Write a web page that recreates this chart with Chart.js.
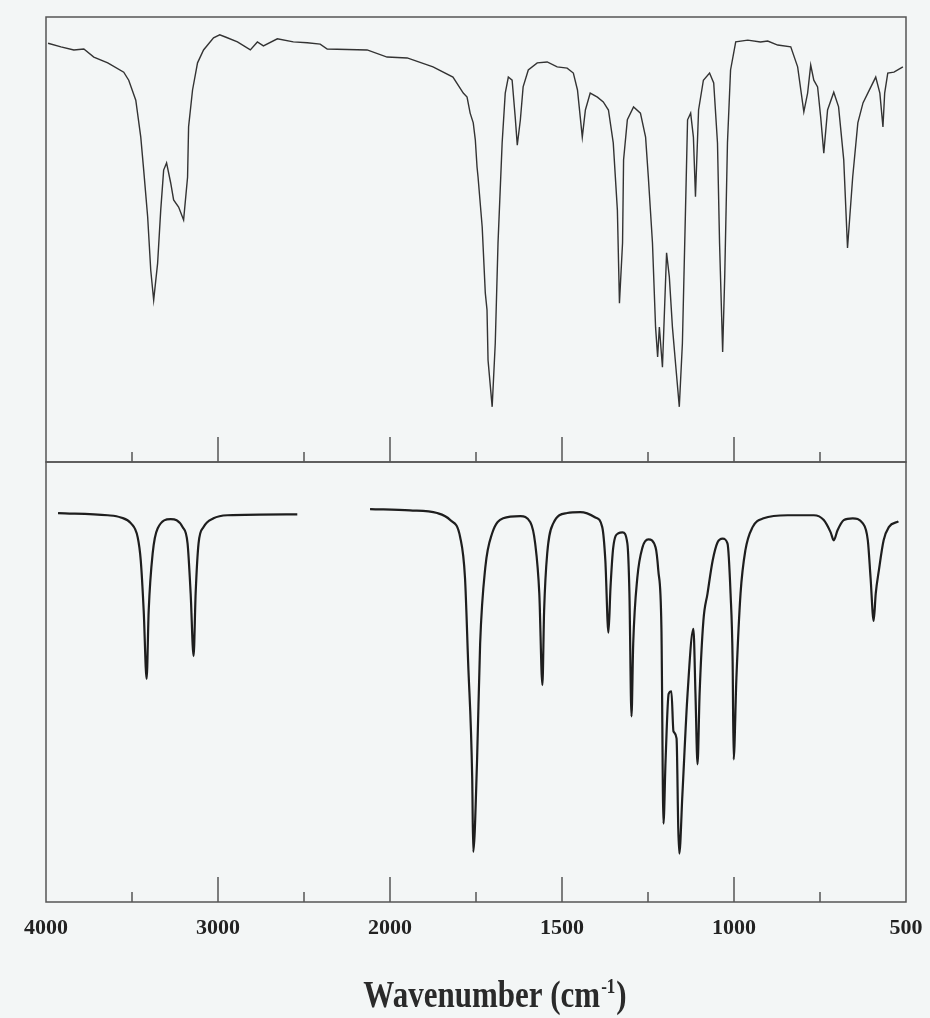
<!DOCTYPE html>
<html>
<head>
<meta charset="utf-8">
<script src="https://cdn.jsdelivr.net/npm/chart.js@4.4.1/dist/chart.umd.min.js"></script>
<style>
  html, body { margin: 0; padding: 0; background: #f3f6f6; }
  #wrap { position: relative; width: 930px; height: 1018px; overflow: hidden; }
  canvas { position: absolute; left: 0; }
  #top { top: 0; }
  #bottom { top: 450px; }
</style>
</head>
<body>
<div id="wrap">
  <canvas id="top" width="930" height="470"></canvas>
  <canvas id="bottom" width="930" height="568"></canvas>
</div>
<script>
// tick positions on the wavenumber axis (cm-1)
const tickLabels = [4000, 3000, 2000, 1500, 1000, 500];
const majorTicks = [3000, 2000, 1500, 1000];
const minorTicks = [3500, 2500, 1750, 1250, 750];

// measured spectrum (top panel): wavenumber, transmittance %
const measWavenumber = [3988, 3913, 3838, 3780, 3722, 3641, 3548, 3519, 3478, 3449, 3432, 3409, 3391, 3374, 3351, 3333, 3316, 3299, 3275, 3258, 3229, 3200, 3177, 3171, 3148, 3119, 3084, 3026, 2990, 2957, 2887, 2812, 2771, 2736, 2655, 2562, 2481, 2406, 2365, 2133, 2017, 1950, 1875, 1817, 1787, 1776, 1767, 1758, 1752, 1747, 1744, 1732, 1723, 1718, 1715, 1703, 1694, 1686, 1674, 1665, 1656, 1645, 1636, 1630, 1621, 1613, 1598, 1572, 1543, 1514, 1485, 1467, 1455, 1441, 1432, 1418, 1397, 1380, 1365, 1351, 1339, 1333, 1324, 1321, 1310, 1292, 1272, 1257, 1249, 1237, 1228, 1222, 1217, 1208, 1202, 1196, 1188, 1179, 1170, 1159, 1150, 1141, 1135, 1126, 1118, 1112, 1103, 1089, 1071, 1059, 1048, 1042, 1033, 1027, 1019, 1010, 995, 960, 923, 902, 873, 835, 815, 797, 786, 777, 768, 757, 748, 739, 728, 710, 696, 681, 670, 655, 640, 625, 611, 588, 576, 567, 562, 553, 535, 509];
const measTransmittance = [94.1, 93.3, 92.6, 92.8, 91.0, 89.7, 87.6, 85.8, 81.3, 73.0, 65.6, 55.1, 43.1, 36.4, 44.7, 56.6, 65.6, 67.2, 62.7, 58.9, 57.3, 54.4, 64.0, 75.3, 83.6, 89.7, 92.6, 95.3, 96.0, 95.5, 94.4, 92.6, 94.4, 93.5, 95.1, 94.4, 94.2, 93.9, 92.8, 92.6, 91.0, 90.8, 88.8, 86.5, 82.9, 82.0, 78.4, 76.2, 72.4, 66.3, 64.0, 52.8, 38.0, 34.2, 22.9, 12.4, 26.7, 49.2, 71.7, 82.9, 86.5, 85.8, 77.5, 71.2, 76.9, 84.3, 88.1, 89.7, 89.9, 88.8, 88.5, 87.4, 83.6, 73.0, 79.1, 82.9, 82.0, 80.9, 79.1, 71.7, 56.6, 35.7, 49.2, 67.9, 76.9, 79.8, 78.4, 73.0, 64.0, 49.2, 30.3, 23.6, 30.3, 21.3, 34.2, 47.0, 41.6, 30.3, 22.2, 12.4, 26.7, 56.6, 76.9, 78.4, 73.0, 59.6, 79.1, 85.8, 87.4, 85.2, 71.7, 49.2, 24.7, 41.6, 71.7, 88.1, 94.4, 94.8, 94.4, 94.6, 93.7, 93.3, 88.8, 78.7, 82.9, 89.2, 85.8, 84.3, 77.5, 69.4, 79.1, 83.1, 79.8, 67.9, 48.1, 64.0, 76.2, 80.7, 82.9, 86.5, 82.9, 75.3, 82.9, 87.4, 87.6, 88.8];

// calculated spectrum (bottom panel), null = gap
const calcWavenumber = [3930, 3641, 3565, 3507, 3467, 3449, 3432, 3415, 3403, 3380, 3351, 3275, 3206, 3177, 3159, 3142, 3130, 3113, 3084, 3026, 2945, 2539, 2330, 2116, 1942, 1863, 1825, 1796, 1782, 1773, 1761, 1758, 1747, 1738, 1723, 1703, 1671, 1621, 1592, 1578, 1566, 1557, 1552, 1543, 1525, 1485, 1447, 1403, 1383, 1374, 1365, 1359, 1351, 1336, 1324, 1310, 1304, 1298, 1293, 1281, 1266, 1249, 1228, 1220, 1211, 1205, 1199, 1190, 1182, 1176, 1167, 1162, 1159, 1150, 1135, 1118, 1112, 1106, 1100, 1089, 1077, 1062, 1048, 1033, 1019, 1010, 1004, 1001, 993, 981, 967, 946, 914, 844, 768, 739, 719, 710, 699, 681, 655, 626, 611, 603, 594, 588, 579, 565, 550, 522];
const calcTransmittance = [88.4, 87.9, 87.4, 86.1, 82.9, 77.6, 66.2, 50.7, 66.2, 79.2, 84.9, 87.0, 85.2, 81.5, 70.1, 55.9, 70.1, 81.5, 85.2, 87.2, 87.9, 88.1, null, 89.3, 89.0, 88.4, 86.8, 82.9, 73.7, 54.8, 28.1, 11.4, 32.0, 58.7, 76.0, 83.8, 87.2, 87.7, 86.3, 81.5, 70.1, 49.3, 66.2, 79.2, 86.1, 88.4, 88.6, 87.4, 85.2, 77.6, 61.2, 71.5, 80.6, 83.8, 84.0, 81.5, 70.1, 42.2, 58.7, 73.7, 80.6, 82.4, 80.6, 75.3, 62.3, 17.8, 32.0, 47.3, 47.9, 38.8, 37.2, 16.7, 11.0, 24.4, 47.3, 62.1, 47.3, 31.3, 47.3, 63.9, 70.1, 77.6, 81.7, 82.6, 81.5, 70.1, 54.8, 32.4, 50.9, 70.1, 79.9, 85.2, 87.2, 87.9, 87.9, 86.8, 84.0, 82.2, 84.5, 86.8, 87.2, 86.1, 82.2, 73.7, 63.9, 70.1, 75.3, 82.2, 85.2, 86.5];

// split axis: 4000-2000 at half the scale of 2000-500
class WavenumberScale extends Chart.LinearScale {
    static id = 'wavenumber';
    frac(v) {
        return v >= 2000 ? (4000 - v) / 5000 : (2 + (2000 - v) / 500) / 5;
    }
    getPixelForValue(v) {
        return this.left + this.width * this.frac(v);
    }
    getValueForPixel(p) {
        const f = (p - this.left) / this.width * 5;
        return f <= 2 ? 4000 - f * 1000 : 2000 - (f - 2) * 500;
    }
    buildTicks() {
        return tickLabels.map(v => ({ value: v }));
    }
}
Chart.register(WavenumberScale);

const frame = {
    id: 'frame',
    afterDatasetsDraw(chart) {
        const { ctx, chartArea: a, scales: { x } } = chart;
        ctx.save();
        ctx.strokeStyle = '#555';
        ctx.lineWidth = 1.5;
        ctx.strokeRect(a.left, a.top, a.right - a.left, a.bottom - a.top);
        ctx.beginPath();
        majorTicks.forEach(v => {
            const px = x.getPixelForValue(v);
            ctx.moveTo(px, a.bottom);
            ctx.lineTo(px, a.bottom - 25);
        });
        minorTicks.forEach(v => {
            const px = x.getPixelForValue(v);
            ctx.moveTo(px, a.bottom);
            ctx.lineTo(px, a.bottom - 10);
        });
        ctx.stroke();
        ctx.restore();
    }
};

const axisTitle = {
    id: 'axisTitle',
    afterDraw(chart) {
        const ctx = chart.ctx;
        const main = 'Wavenumber (cm', sup = '-1', close = ')';
        ctx.save();
        ctx.fillStyle = '#2a2a2a';
        ctx.font = 'bold 31px "Liberation Serif", "Times New Roman", serif';
        const w1 = ctx.measureText(main).width;
        const w3 = ctx.measureText(close).width;
        ctx.font = 'bold 17px "Liberation Serif", "Times New Roman", serif';
        const w2 = ctx.measureText(sup).width;
        const total = w1 + w2 + w3 + 2;
        ctx.translate(495 - total / 2, 557);
        ctx.scale(1, 1.2);
        ctx.textBaseline = 'alphabetic';
        ctx.font = 'bold 31px "Liberation Serif", "Times New Roman", serif';
        ctx.fillText(main, 0, 0);
        ctx.fillText(close, w1 + w2 + 2, 0);
        ctx.font = 'bold 17px "Liberation Serif", "Times New Roman", serif';
        ctx.fillText(sup, w1 + 1, -12);
        ctx.restore();
    }
};

function points(xs, ys) {
    return xs.map((v, i) => ({ x: v, y: ys[i] }));
}

new Chart(document.getElementById('top'), {
    type: 'line',
    data: {
        datasets: [{
            data: points(measWavenumber, measTransmittance),
            borderColor: '#333',
            borderWidth: 1.4,
            pointRadius: 0,
            tension: 0
        }]
    },
    options: {
        responsive: false,
        animation: false,
        layout: { padding: { left: 46, right: 24, top: 17, bottom: 8 } },
        plugins: { legend: { display: false }, tooltip: { enabled: false } },
        scales: {
            x: { type: 'wavenumber', min: 500, max: 4000, display: false },
            y: { min: 0, max: 100, display: false }
        }
    },
    plugins: [frame]
});

new Chart(document.getElementById('bottom'), {
    type: 'line',
    data: {
        datasets: [{
            data: points(calcWavenumber, calcTransmittance),
            borderColor: '#1e1e1e',
            borderWidth: 2.2,
            pointRadius: 0,
            cubicInterpolationMode: 'monotone',
            spanGaps: false
        }]
    },
    options: {
        responsive: false,
        animation: false,
        layout: { padding: { left: 46, right: 24, top: 12, bottom: 76 } },
        plugins: { legend: { display: false }, tooltip: { enabled: false } },
        scales: {
            x: {
                type: 'wavenumber',
                min: 500,
                max: 4000,
                grid: { display: false, drawTicks: false },
                border: { display: false },
                ticks: {
                    autoSkip: false,
                    maxRotation: 0,
                    padding: 13,
                    color: '#222',
                    font: { family: '"Liberation Serif", "Times New Roman", serif', size: 22, weight: 'bold' },
                    callback: v => String(v)
                },
                afterFit(scale) {
                    scale.paddingLeft = 0;
                    scale.paddingRight = 0;
                    scale.height = 40;
                }
            },
            y: { min: 0, max: 100, display: false }
        }
    },
    plugins: [frame, axisTitle]
});
</script>
</body>
</html>
